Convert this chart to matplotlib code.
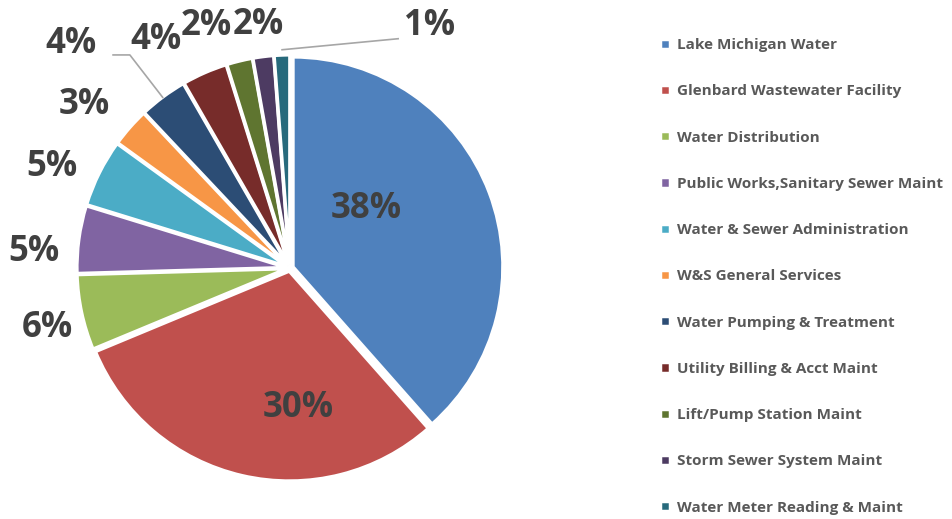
import numpy as np
import matplotlib
matplotlib.use("Agg")
import matplotlib.pyplot as plt

categories = ["Lake Michigan Water", "Glenbard Wastewater Facility", "Water Distribution",
              "Public Works,Sanitary Sewer Maint", "Water & Sewer Administration",
              "W&S General Services", "Water Pumping & Treatment", "Utility Billing & Acct Maint",
              "Lift/Pump Station Maint", "Storm Sewer System Maint", "Water Meter Reading & Maint"]
values = [38.4, 30.2, 5.8, 5.2, 5.2, 3.0, 3.7, 3.5, 2.0, 1.6, 1.2]
pct_labels = ["38%", "30%", "6%", "5%", "5%", "3%", "4%", "4%", "2%", "2%", "1%"]

colors = ["#4F81BD", "#C0504D", "#9BBB59", "#8064A2", "#4BACC6", "#F79646",
          "#2C4D75", "#772C2A", "#5F7530", "#4D3B62", "#276A7C"]

# label placement (radius in pie radii, angle in degrees) - layout only
label_r = [0.46, 0.67, 1.19, 1.22, 1.23, 1.25, 1.49, 1.26, 1.22, 1.165, 1.33]
label_a = [38, -86.7, 194, 176.4, 157, 141.5, 134.4, 120.4, 109, 97.4, 60]
leader = [False] * 6 + [True] + [False] * 3 + [True]

plt.rcParams['font.family'] = ['Open Sans', 'DejaVu Sans']

fig = plt.figure(figsize=(9.53, 5.19), dpi=100)
R = 210
cx, cy = 290, 268
ax = fig.add_axes([(cx - R * 1.0) / 953, (519 - cy - R * 1.0) / 519, 2 * R / 953, 2 * R / 519])
wedges, _ = ax.pie(values, colors=colors, startangle=90, counterclock=False,
                   explode=[0.015] * len(values),
                   wedgeprops=dict(edgecolor="white", linewidth=2.5))
ax.set_xlim(-1, 1)
ax.set_ylim(-1, 1)
ax.set_aspect('equal')

for i, w in enumerate(wedges):
    r = label_r[i]
    a = np.deg2rad(label_a[i])
    x, y = r * np.cos(a), r * np.sin(a)
    ax.text(x, y, pct_labels[i], ha='center', va='center', fontsize=25,
            fontweight='bold', color='#404040', clip_on=False)
    if leader[i]:
        mid = np.deg2rad((w.theta1 + w.theta2) / 2)
        ex, ey = 1.0 * np.cos(mid), 1.0 * np.sin(mid)
        if x < 0:
            pts = [(ex - 0.01, ey + 0.01), (x + 0.28, y - 0.05), (x + 0.2, y - 0.05)]
        else:
            pts = [(ex, ey + 0.04), (x - 0.15, y - 0.06)]
        xs, ys = zip(*pts)
        ax.plot(xs, ys, color='#A6A6A6', lw=1.2, clip_on=False)

leg = fig.legend(wedges, categories, loc='upper left', bbox_to_anchor=(646 / 953, 1 - 24.5 / 519),
                 frameon=False, fontsize=11, handlelength=0.65, handleheight=0.65,
                 handletextpad=0.5, labelspacing=2.11)
for t in leg.get_texts():
    t.set_color('#595959')
    t.set_fontweight('bold')

fig.savefig("out.png", dpi=100)
